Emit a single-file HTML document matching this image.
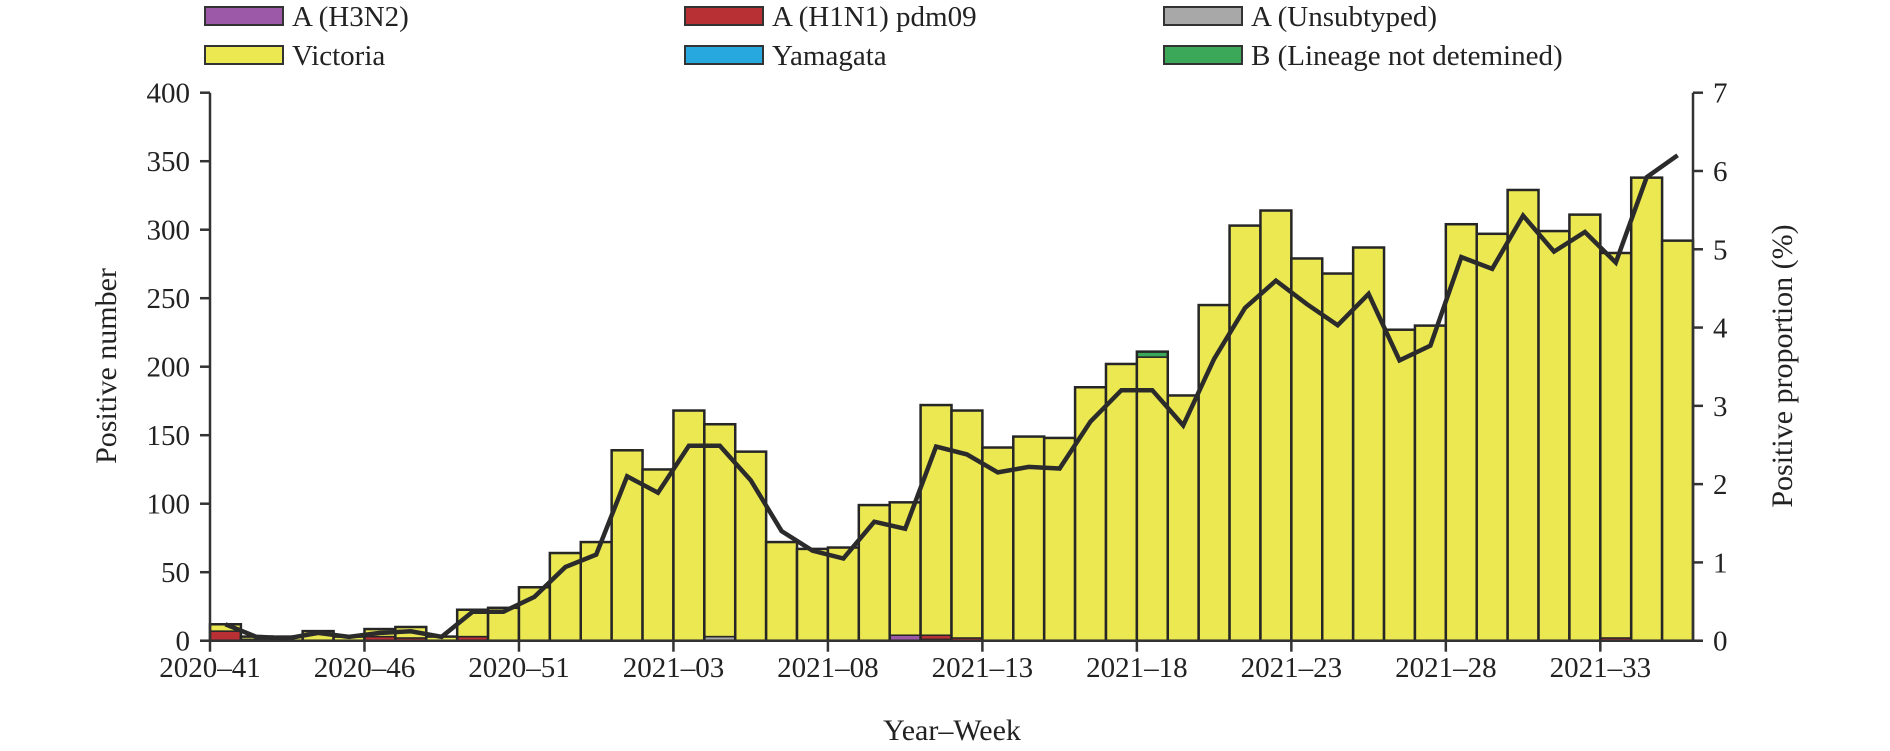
<!DOCTYPE html>
<html><head><meta charset="utf-8"><style>
html,body{margin:0;padding:0;background:#fff;}
svg{display:block;font-family:"Liberation Serif",serif;}
</style></head><body>
<svg id="chart" width="1890" height="751" viewBox="0 0 1890 751" xmlns="http://www.w3.org/2000/svg">
<g id="legend"></g>
<g id="bars"></g>
<g id="axes"></g>
<g id="line"></g>
</svg>
<script>
const weeks=["2020–41","2020–42","2020–43","2020–44","2020–45","2020–46","2020–47","2020–48","2020–49","2020–50","2020–51","2020–52","2020–53","2021–01","2021–02","2021–03","2021–04","2021–05","2021–06","2021–07","2021–08","2021–09","2021–10","2021–11","2021–12","2021–13","2021–14","2021–15","2021–16","2021–17","2021–18","2021–19","2021–20","2021–21","2021–22","2021–23","2021–24","2021–25","2021–26","2021–27","2021–28","2021–29","2021–30","2021–31","2021–32","2021–33","2021–34","2021–35"];
const h3n2=[0,0,0,0,0,0,0,0,0,0,0,0,0,0,0,0,0,0,0,0,0,0,4,1,0,0,0,0,0,0,0,0,0,0,0,0,0,0,0,0,0,0,0,0,0,0,0,0];
const h1n1=[7,1,0,0,0,3,2,0,3,0,0,0,0,0,0,0,0,0,0,0,0,0,0,3,2,0,0,0,0,0,0,0,0,0,0,0,0,0,0,0,0,0,0,0,0,2,0,0];
const unsub=[0,0,0,0,0,0,0,0,0,0,0,0,0,0,0,0,3,0,0,0,0,0,0,0,0,0,0,0,0,0,0,0,0,0,0,0,0,0,0,0,0,0,0,0,0,0,0,0];
const victoria=[5,2,3,7,3,5.5,8,3,19.6,24,39,64,72,139,125,168,155,138,72,67,68,99,97,168,166,141,149,148,185,202,207,179,245,303,314,279,268,287,227,230,304,297,329,299,311,281,338,292];
const yamagata=[0,0,0,0,0,0,0,0,0,0,0,0,0,0,0,0,0,0,0,0,0,0,0,0,0,0,0,0,0,0,0,0,0,0,0,0,0,0,0,0,0,0,0,0,0,0,0,0];
const blin=[0,0,0,0,0,0,0,0,0,0,0,0,0,0,0,0,0,0,0,0,0,0,0,0,0,0,0,0,0,0,4,0,0,0,0,0,0,0,0,0,0,0,0,0,0,0,0,0];
const proportion=[0.21,0.05,0.03,0.1,0.05,0.1,0.12,0.05,0.37,0.37,0.56,0.94,1.1,2.1,1.89,2.49,2.49,2.05,1.4,1.15,1.05,1.52,1.43,2.48,2.38,2.15,2.22,2.2,2.8,3.2,3.2,2.75,3.6,4.25,4.6,4.3,4.03,4.43,3.58,3.77,4.9,4.75,5.43,4.97,5.22,4.83,5.92,6.2];
const leftTicks=[0,50,100,150,200,250,300,350,400];
const rightTicks=[0,1,2,3,4,5,6,7];
const NS="http://www.w3.org/2000/svg";
const X0=210,X1=1693,Y0=640.7,YT=92.7;
const bw=(X1-X0)/weeks.length;
function xs(i){return X0+i*bw;}
function yl(v){return Y0-(v/400)*(Y0-YT);}
function yr(v){return Y0-(v/7)*(Y0-YT);}
function mk(tag,attrs,parent){const e=document.createElementNS(NS,tag);for(const k in attrs)e.setAttribute(k,attrs[k]);parent.appendChild(e);return e;}
const series=[
 {name:"A (H3N2)",data:h3n2,color:"#9b59a8",key:"h3n2"},
 {name:"A (H1N1) pdm09",data:h1n1,color:"#b93034",key:"h1n1"},
 {name:"A (Unsubtyped)",data:unsub,color:"#a8a8a8",key:"unsubtyped"},
 {name:"Victoria",data:victoria,color:"#ece852",key:"victoria"},
 {name:"Yamagata",data:yamagata,color:"#27a9e0",key:"yamagata"},
 {name:"B (Lineage not detemined)",data:blin,color:"#3aa858",key:"b-lineage"}];
const gb=document.getElementById('bars');
for(let i=0;i<weeks.length;i++){
  let acc=0;
  const g=mk('g',{},gb);
  
  
  for(const s of series){
    const v=s.data[i]; if(!v) continue;
    const r=mk('rect',{x:xs(i),y:yl(acc+v),width:bw,height:yl(acc)-yl(acc+v),fill:s.color,stroke:"#262626","stroke-width":1.5},g);
    
    
    acc+=v;
  }
  const o=mk('rect',{x:xs(i),y:yl(acc),width:bw,height:Y0-yl(acc),fill:"none",stroke:"#262626","stroke-width":2.5},g);
  
  
}
const ga=document.getElementById('axes');
const st={stroke:"#333","stroke-width":2.5,fill:"none"};
let a=mk('line',Object.assign({x1:X0,y1:YT,x2:X0,y2:Y0},st),ga);

a=mk('line',Object.assign({x1:X1,y1:YT,x2:X1,y2:Y0},st),ga);

a=mk('line',Object.assign({x1:X0-10,y1:Y0,x2:X1+10,y2:Y0},st),ga);

for(const t of leftTicks){
  const y=yl(t);
  mk('line',Object.assign({x1:X0-10,y1:y,x2:X0,y2:y},st),ga);
  const tx=mk('text',{x:X0-20,y:y+10,"text-anchor":"end","font-size":29,fill:"#222"},ga);
  tx.textContent=t;
  
  
}
for(const t of rightTicks){
  const y=yr(t);
  mk('line',Object.assign({x1:X1,y1:y,x2:X1+10,y2:y},st),ga);
  const tx=mk('text',{x:X1+20,y:y+10,"font-size":29,fill:"#222"},ga);
  tx.textContent=t;
  
  
}
for(let i=0;i<weeks.length;i+=5){
  const x=xs(i);
  mk('line',Object.assign({x1:x,y1:Y0,x2:x,y2:Y0+11},st),ga);
  const tx=mk('text',{x:x,y:677,"text-anchor":"middle","font-size":29,fill:"#222"},ga);
  tx.textContent=weeks[i];
  
  
}
let tt=mk('text',{x:952,y:740,"text-anchor":"middle","font-size":30,fill:"#222"},ga);
tt.textContent="Year–Week";

tt=mk('text',{x:0,y:0,"text-anchor":"middle","font-size":30,fill:"#222",transform:"translate(116,366) rotate(-90)"},ga);
tt.textContent="Positive number";

tt=mk('text',{x:0,y:0,"text-anchor":"middle","font-size":30,fill:"#222",transform:"translate(1792,366) rotate(-90)"},ga);
tt.textContent="Positive proportion (%)";

const gl=document.getElementById('line');
const pts=proportion.map((v,i)=>(xs(i)+bw/2).toFixed(1)+","+yr(v).toFixed(1)).join(" ");
const pl=mk('polyline',{points:pts,fill:"none",stroke:"#2b2b2b","stroke-width":4.5,"stroke-linejoin":"miter"},gl);


const leg=document.getElementById('legend');
const colX=[205,685,1164],rowY=[7,46];
series.forEach((s,k)=>{
  const cx=colX[k%3],ry=rowY[Math.floor(k/3)];
  const g=mk('g',{},leg);
  
  
  mk('rect',{x:cx,y:ry,width:78,height:18,fill:s.color,stroke:"#333","stroke-width":2},g);
  const t=mk('text',{x:cx+87,y:ry+19,"font-size":29,fill:"#222"},g);
  t.textContent=s.name;
});
</script>
</body></html>
